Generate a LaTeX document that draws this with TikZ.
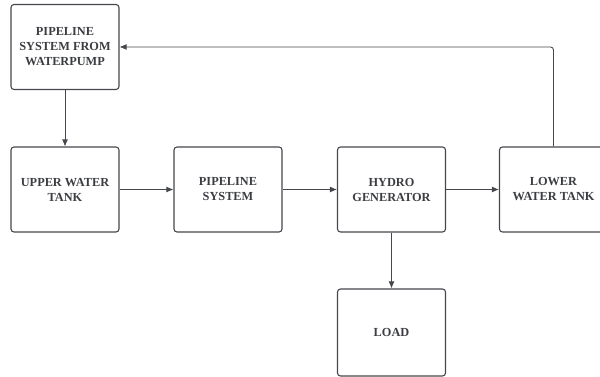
\documentclass[tikz,border=0pt]{standalone}
\usepackage{fontspec}
\setmainfont{Liberation Serif}
\usetikzlibrary{arrows.meta}
\definecolor{edge}{HTML}{45474C}
\definecolor{ink}{HTML}{3C3D42}
\tikzset{
  block/.style={draw=edge,line width=1.1pt,rounded corners=3pt,minimum width=108pt,minimum height=85pt,
    align=center,text=ink,font=\fontsize{12.3}{15}\selectfont\bfseries},
  flow/.style={draw=edge,line width=0.9pt,-{Latex[length=7pt,width=6pt]}}
}
\begin{document}
\begin{tikzpicture}[x=1pt,y=1pt]
  \useasboundingbox (0,0) rectangle (600,-377);
  \begin{scope}
  \clip (0,0) rectangle (600,-377);
  \node[block] (pump) at (65,-47) {PIPELINE\\SYSTEM FROM\\WATERPUMP};
  \node[block] (upper) at (65,-189.5) {UPPER WATER\\TANK};
  \node[block] (pipe) at (228,-189.5) {PIPELINE\\SYSTEM};
  \node[block] (hydro) at (391.5,-189.5) {HYDRO\\GENERATOR};
  \node[block] (lower) at (553.5,-189.5) {LOWER\\WATER TANK};
  \node[block,minimum height=87pt] (load) at (391.5,-332.5) {LOAD};
  \coordinate (turn) at (553.5,-47);
  \draw[flow] (pump) -- (upper);
  \draw[flow] (upper) -- (pipe);
  \draw[flow] (pipe) -- (hydro);
  \draw[flow] (hydro) -- (lower);
  \draw[flow] (hydro) -- (load);
  \draw[flow,rounded corners=3pt] (lower.north) -- (turn) -- (pump.east);
  \end{scope}
\end{tikzpicture}
\end{document}
